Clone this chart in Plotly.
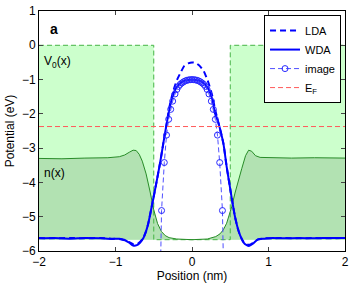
import plotly.graph_objects as go

# ---------------- data ----------------
baseline = -5.67
e_fermi = -2.37

v0_x = [-2.0, -0.5, -0.5, 0.5, 0.5, 2.0]
v0_y = [0.0, 0.0, -5.67, -5.67, 0.0, 0.0]

n_x = [-2.0, -1.7, -1.4, -1.1, -0.95, -0.88, -0.82, -0.77, -0.73, -0.69, -0.65, -0.60,
       -0.55, -0.50, -0.45, -0.40, -0.35, -0.30, -0.20, 0.0, 0.20, 0.26, 0.31, 0.366,
       0.41, 0.453, 0.519, 0.562, 0.61, 0.65, 0.70, 0.74, 0.78, 0.83, 0.89, 1.0, 1.3,
       1.6, 2.0]
n_y = [-3.30, -3.31, -3.29, -3.28, -3.25, -3.20, -3.12, -3.06, -3.07, -3.18, -3.38,
       -3.75, -4.25, -4.80, -5.20, -5.43, -5.55, -5.61, -5.65, -5.67, -5.65, -5.62,
       -5.58, -5.50, -5.38, -5.19, -4.71, -4.31, -3.90, -3.60, -3.22, -3.06, -3.09,
       -3.22, -3.27, -3.28, -3.29, -3.28, -3.29]

wda_x = [-2.0, -1.8, -1.6, -1.4, -1.2, -1.05, -0.95, -0.88, -0.82, -0.77, -0.72,
         -0.68, -0.637, -0.60, -0.571, -0.527, -0.475, -0.418, -0.375, -0.33, -0.30,
         -0.27, -0.24, -0.20, -0.15, -0.10, -0.05, 0.0, 0.05, 0.10, 0.15, 0.20, 0.24,
         0.27, 0.30, 0.344, 0.41, 0.453, 0.519, 0.562, 0.60, 0.627, 0.67, 0.715, 0.75,
         0.80, 0.86, 0.95, 1.05, 1.2, 1.4, 1.6, 1.8, 2.0]
wda_y = [-5.63, -5.62, -5.64, -5.62, -5.63, -5.65, -5.64, -5.68, -5.76, -5.84, -5.83,
         -5.76, -5.63, -5.42, -5.19, -4.71, -4.12, -3.44, -2.86, -2.27, -1.92, -1.62,
         -1.40, -1.22, -1.10, -1.04, -1.01, -1.00, -1.01, -1.04, -1.10, -1.22, -1.40,
         -1.62, -1.98, -2.25, -2.86, -3.54, -4.45, -5.00, -5.35, -5.53, -5.74, -5.83,
         -5.85, -5.78, -5.66, -5.64, -5.62, -5.63, -5.62, -5.63, -5.62, -5.62]

lda_x = wda_x
lda_y = [-5.62, -5.63, -5.62, -5.63, -5.62, -5.64, -5.65, -5.69, -5.74, -5.80, -5.80,
         -5.74, -5.62, -5.42, -5.19, -4.71, -4.12, -3.44, -2.86, -2.27, -1.85, -1.55,
         -1.30, -1.03, -0.80, -0.60, -0.53, -0.50, -0.52, -0.60, -0.74, -1.00, -1.27,
         -1.52, -1.85, -2.25, -2.86, -3.54, -4.45, -5.00, -5.35, -5.53, -5.72, -5.80,
         -5.82, -5.76, -5.67, -5.63, -5.63, -5.62, -5.63, -5.62, -5.63, -5.62]

img_x = [-0.42, -0.398, -0.362, -0.333, -0.305, -0.279, -0.253, -0.222, -0.198,
         -0.176, -0.154, -0.132, -0.11, -0.088, -0.066, -0.044, -0.022, 0.0, 0.022,
         0.044, 0.066, 0.088, 0.11, 0.132, 0.154, 0.176, 0.198, 0.222, 0.253, 0.279,
         0.305, 0.333, 0.362, 0.398, 0.42]
img_y = [-7.5, -4.82, -3.42, -2.62, -2.16, -1.87, -1.63, -1.42, -1.29, -1.20, -1.14,
         -1.10, -1.065, -1.04, -1.02, -1.01, -1.003, -1.0, -1.003, -1.01, -1.02, -1.04,
         -1.065, -1.10, -1.14, -1.20, -1.29, -1.42, -1.63, -1.87, -2.16, -2.62, -3.42,
         -4.82, -7.5]

ef_x = [-2.0, 2.0]
ef_y = [e_fermi, e_fermi]

x_ticks = [-2, -1, 0, 1, 2]
y_ticks = [1, 0, -1, -2, -3, -4, -5, -6]

# ---------------- figure ----------------
FONT = "Liberation Sans, Arial, Helvetica, sans-serif"
fig = go.Figure()

# V0 area (light green)
fig.add_trace(go.Scatter(x=v0_x + v0_x[::-1], y=v0_y + [baseline] * len(v0_x),
                         fill="toself", fillcolor="rgb(204,255,204)",
                         line=dict(width=0), mode="lines", showlegend=False,
                         hoverinfo="skip"))
# n(x) area (darker green)
fig.add_trace(go.Scatter(x=n_x + n_x[::-1], y=n_y + [baseline] * len(n_x),
                         fill="toself", fillcolor="rgb(178,226,178)",
                         line=dict(width=0), mode="lines", showlegend=False,
                         hoverinfo="skip"))
# V0 outline dashed
fig.add_trace(go.Scatter(x=v0_x, y=v0_y, mode="lines",
                         line=dict(color="rgb(70,180,70)", width=1, dash="5px,3px"),
                         showlegend=False, hoverinfo="skip"))
# n outline
fig.add_trace(go.Scatter(x=n_x, y=n_y, mode="lines",
                         line=dict(color="rgb(40,140,40)", width=1),
                         showlegend=False, hoverinfo="skip"))

fig.add_trace(go.Scatter(x=lda_x, y=lda_y, mode="lines", name="LDA",
                         line=dict(color="rgb(0,0,255)", width=2, dash="6px,4px",
                                   shape="spline", smoothing=0.6)))
fig.add_trace(go.Scatter(x=wda_x, y=wda_y, mode="lines", name="WDA",
                         line=dict(color="rgb(0,0,255)", width=2, shape="spline",
                                   smoothing=0.6)))
fig.add_trace(go.Scatter(x=img_x, y=img_y, mode="lines+markers", name="image",
                         line=dict(color="rgb(80,80,255)", width=1, dash="5px,3px"),
                         marker=dict(symbol="circle-open", size=6,
                                     color="rgb(40,40,255)", line=dict(width=1))))
fig.add_trace(go.Scatter(x=ef_x, y=ef_y, mode="lines", name="E<sub>F</sub>",
                         line=dict(color="rgb(255,90,90)", width=1, dash="5px,3px")))

fig.add_annotation(x=-1.88, y=0.47, xref="x", yref="y", text="<b>a</b>",
                   showarrow=False, xanchor="left", yanchor="middle",
                   font=dict(size=14, color="black", family=FONT))
fig.add_annotation(x=-1.96, y=-0.48, xref="x", yref="y", text="V<sub>0</sub>(x)",
                   showarrow=False, xanchor="left", yanchor="middle",
                   font=dict(size=12, color="black", family=FONT))
fig.add_annotation(x=-1.96, y=-3.73, xref="x", yref="y", text="n(x)",
                   showarrow=False, xanchor="left", yanchor="middle",
                   font=dict(size=12, color="black", family=FONT))

fig.update_layout(
    width=353, height=285,
    margin=dict(l=39, r=8, t=11, b=34),
    paper_bgcolor="white", plot_bgcolor="white",
    font=dict(family=FONT, size=12, color="black"),
    showlegend=True,
    legend=dict(x=0.987, y=0.983, xanchor="right", yanchor="top",
                bgcolor="white", bordercolor="black", borderwidth=1,
                font=dict(size=11, family=FONT), itemwidth=30,
                tracegroupgap=0),
    xaxis=dict(range=[-2, 2], tickvals=x_ticks, ticks="inside", ticklen=4,
               showline=True, linecolor="black", linewidth=1, mirror="ticks",
               showgrid=False, zeroline=False, automargin=False,
               ticklabeloverflow="allow",
               title=dict(text="Position (nm)", standoff=3,
                          font=dict(size=12, family=FONT))),
    yaxis=dict(range=[-6, 1], tickvals=y_ticks, ticks="inside", ticklen=4,
               showline=True, linecolor="black", linewidth=1, mirror="ticks",
               showgrid=False, zeroline=False, automargin=False,
               ticklabeloverflow="allow",
               title=dict(text="Potential (eV)", standoff=4,
                          font=dict(size=12, family=FONT))),
)

fig.write_html("out.html", config={"displayModeBar": False},
               post_script="document.body.style.margin='0';document.body.style.padding='0';")
